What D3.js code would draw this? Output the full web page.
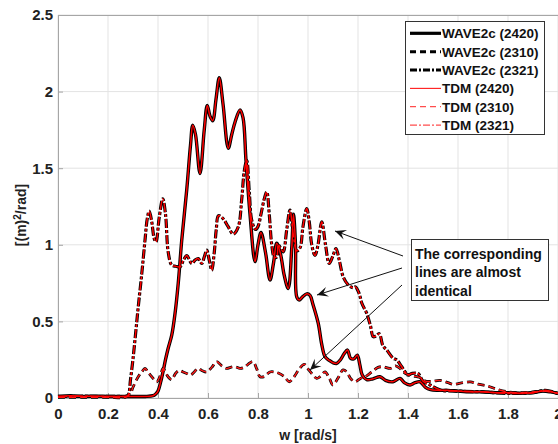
<!DOCTYPE html>
<html><head><meta charset="utf-8">
<script src="https://cdn.jsdelivr.net/npm/d3@7"></script>
<style>body{margin:0;background:#fff;overflow:hidden}text{font-family:"Liberation Sans",Arial,sans-serif;font-weight:bold}</style>
</head><body>
<svg id="c" width="558" height="444"></svg>
<script>
// ---- data ----
const xTickVals = [0,0.2,0.4,0.6,0.8,1,1.2,1.4,1.6,1.8,2];
const yTickVals = [0,0.5,1,1.5,2,2.5];
const legendLabels = ["WAVE2c (2420)","WAVE2c (2310)","WAVE2c (2321)","TDM (2420)","TDM (2310)","TDM (2321)"];
const annotationLines = ["The corresponding","lines are almost","identical"];

const w2420 = [0,0.05,0.1,0.15,0.2,0.25,0.3,0.35,0.38,0.39,0.40,0.41,0.42,0.43,0.44,0.455,0.468,0.481,0.495,0.515,0.53,0.539,0.55,0.568,0.585,0.597,0.608,0.619,0.632,0.645,0.66,0.681,0.695,0.708,0.728,0.74,0.752,0.768,0.788,0.80,0.812,0.83,0.848,0.862,0.875,0.89,0.905,0.921,0.935,0.942,0.95,0.955,0.965,0.978,0.995,1.008,1.02,1.041,1.055,1.068,1.085,1.1,1.115,1.13,1.145,1.158,1.17,1.183,1.197,1.207,1.217,1.235,1.26,1.288,1.31,1.34,1.368,1.385,1.408,1.428,1.448,1.47,1.49,1.52,1.56,1.6,1.65,1.7,1.75,1.8,1.85,1.9,1.94,1.97,2.0];
const s2420 = [0.01,0.015,0.01,0.012,0.01,0.01,0.01,0.01,0.015,0.025,0.045,0.10,0.17,0.25,0.32,0.41,0.55,0.75,1.03,1.36,1.65,1.78,1.72,1.465,1.75,1.91,1.84,1.81,1.95,2.09,1.92,1.63,1.72,1.80,1.88,1.83,1.55,1.2,0.89,1.0,1.08,0.95,0.77,0.88,1.01,0.94,0.80,0.715,0.98,1.2,1.0,0.66,0.64,0.66,0.68,0.67,0.61,0.487,0.35,0.27,0.245,0.23,0.226,0.25,0.29,0.313,0.26,0.255,0.28,0.22,0.15,0.12,0.125,0.139,0.115,0.106,0.128,0.10,0.085,0.1,0.106,0.07,0.055,0.05,0.05,0.045,0.04,0.04,0.035,0.035,0.03,0.035,0.045,0.04,0.03];

const w2321 = [0,0.05,0.1,0.15,0.2,0.25,0.27,0.281,0.29,0.301,0.311,0.321,0.335,0.348,0.357,0.365,0.375,0.385,0.392,0.405,0.419,0.43,0.441,0.455,0.47,0.488,0.502,0.515,0.535,0.548,0.561,0.575,0.585,0.595,0.605,0.615,0.625,0.633,0.642,0.661,0.68,0.701,0.721,0.735,0.745,0.755,0.765,0.775,0.79,0.80,0.812,0.825,0.835,0.845,0.855,0.865,0.875,0.881,0.89,0.901,0.915,0.928,0.94,0.955,0.968,0.98,0.995,1.005,1.015,1.028,1.04,1.055,1.07,1.085,1.1,1.112,1.125,1.141,1.16,1.18,1.19,1.205,1.215,1.235,1.25,1.261,1.272,1.285,1.30,1.315,1.34,1.355,1.375,1.388,1.40,1.415,1.44,1.46,1.488,1.53,1.6,1.7,1.8,1.9,1.95,2.0];
const s2321 = [0.01,0.01,0.012,0.01,0.01,0.01,0.01,0.02,0.12,0.27,0.43,0.595,0.81,1.03,1.17,1.22,1.15,1.04,1.02,1.18,1.30,1.2,0.95,0.867,0.86,0.856,0.90,0.93,0.878,0.90,0.91,0.878,0.92,0.965,0.9,0.834,0.95,1.1,1.19,1.17,1.12,1.07,1.117,1.3,1.48,1.55,1.35,1.16,1.1,1.12,1.2,1.3,1.345,1.2,1.0,0.92,0.92,1.0,0.98,0.954,1.1,1.226,1.08,0.96,0.98,1.12,1.237,1.15,1.0,0.93,1.0,1.15,1.0,0.878,0.93,0.976,0.9,0.79,0.74,0.72,0.725,0.68,0.62,0.552,0.47,0.40,0.405,0.42,0.34,0.313,0.26,0.248,0.204,0.171,0.15,0.16,0.16,0.11,0.085,0.052,0.045,0.04,0.03,0.035,0.05,0.03];

const w2310 = [0,0.1,0.2,0.27,0.29,0.30,0.321,0.335,0.348,0.36,0.375,0.395,0.41,0.42,0.43,0.44,0.455,0.47,0.485,0.50,0.515,0.53,0.545,0.56,0.575,0.595,0.615,0.635,0.655,0.675,0.69,0.708,0.728,0.745,0.76,0.78,0.795,0.808,0.825,0.848,0.865,0.885,0.905,0.925,0.945,0.965,0.985,1.0,1.015,1.035,1.048,1.068,1.085,1.1,1.12,1.14,1.155,1.17,1.188,1.21,1.23,1.255,1.28,1.30,1.33,1.35,1.37,1.39,1.42,1.445,1.47,1.5,1.528,1.56,1.58,1.62,1.65,1.68,1.715,1.75,1.8,1.85,1.9,1.95,2.0];
const s2310 = [0.005,0.005,0.005,0.005,0.03,0.07,0.139,0.17,0.193,0.17,0.139,0.106,0.15,0.193,0.17,0.139,0.12,0.16,0.18,0.17,0.16,0.15,0.17,0.193,0.18,0.17,0.2,0.237,0.21,0.193,0.2,0.204,0.193,0.2,0.22,0.237,0.19,0.139,0.14,0.17,0.17,0.16,0.14,0.106,0.14,0.19,0.22,0.19,0.16,0.128,0.139,0.17,0.13,0.085,0.13,0.183,0.17,0.128,0.106,0.128,0.14,0.17,0.2,0.204,0.193,0.21,0.19,0.16,0.145,0.135,0.11,0.11,0.115,0.1,0.09,0.10,0.105,0.09,0.08,0.06,0.04,0.035,0.04,0.045,0.03];

// ---- layout ----
const svg = d3.select("#c");
const L = 58, R = 558, T = 15, B = 398;
const x = d3.scaleLinear().domain([0,2]).range([L,R]);
const y = d3.scaleLinear().domain([0,2.5]).range([B,T]);
const gridCol = "#e3e3e3", axisCol = "#a6a6a6";

// grid
svg.append("g").selectAll("line").data(xTickVals).join("line")
  .attr("x1",d=>x(d)).attr("x2",d=>x(d)).attr("y1",T).attr("y2",B)
  .attr("stroke",gridCol).attr("stroke-width",1);
svg.append("g").selectAll("line").data(yTickVals).join("line")
  .attr("x1",L).attr("x2",R).attr("y1",d=>y(d)).attr("y2",d=>y(d))
  .attr("stroke",gridCol).attr("stroke-width",1);

// axes
const fmt = d => String(+d.toFixed(1));
const xa = svg.append("g").attr("transform",`translate(0,${B})`)
  .call(d3.axisBottom(x).tickValues(xTickVals).tickFormat(fmt).tickSizeInner(-5).tickSizeOuter(0).tickPadding(10));
const ya = svg.append("g").attr("transform",`translate(${L},0)`)
  .call(d3.axisLeft(y).tickValues(yTickVals).tickFormat(fmt).tickSizeInner(-5).tickSizeOuter(0).tickPadding(5));
[xa,ya].forEach(a=>{
  a.select(".domain").attr("stroke",axisCol);
  a.selectAll(".tick line").attr("stroke",axisCol);
  a.selectAll(".tick text").attr("fill","#222").style("font-size","15px")
    .style("font-family",'"Liberation Sans",Arial,sans-serif').style("font-weight","bold");
});
// top border
svg.append("line").attr("x1",L).attr("x2",R).attr("y1",T+0.5).attr("y2",T+0.5).attr("stroke",axisCol);

// axis labels
svg.append("text").attr("x",308).attr("y",440).attr("text-anchor","middle")
  .style("font-size","14px").attr("fill","#222").text("w [rad/s]");
const yl = svg.append("text").attr("transform","translate(26,215) rotate(-90)").attr("text-anchor","middle")
  .style("font-size","14px").attr("fill","#222");
yl.append("tspan").text("[(m)");
yl.append("tspan").attr("dy",-5).style("font-size","10px").text("2");
yl.append("tspan").attr("dy",5).text("/rad]");

// series
const series = [
  {w:w2420, s:s2420, color:"#000", width:3.4, dash:null},
  {w:w2310, s:s2310, color:"#000", width:2.8, dash:"7,4"},
  {w:w2321, s:s2321, color:"#000", width:3.2, dash:"9,2,3,2"},
  {w:w2420, s:s2420, color:"#ff0000", width:1.5, dash:null},
  {w:w2310, s:s2310, color:"#ff1a1a", width:1.4, dash:"7,4"},
  {w:w2321, s:s2321, color:"#ff0000", width:1.5, dash:"9,2,3,2"}
];
const line = d3.line().x(d=>x(d[0])).y(d=>y(d[1])).curve(d3.curveCatmullRom.alpha(0.5));
series.forEach(sr=>{
  const pts = sr.w.map((v,i)=>[v, sr.s[i]]);
  svg.append("path").attr("d",line(pts)).attr("fill","none")
    .attr("stroke",sr.color).attr("stroke-width",sr.width)
    .attr("stroke-dasharray",sr.dash).attr("stroke-linejoin","round");
});

// legend
const legendStyles = [
  {color:"#000", width:3.2, dash:null},
  {color:"#000", width:3, dash:"6,4"},
  {color:"#000", width:3, dash:"7,2,2,2"},
  {color:"#ff0000", width:1, dash:null},
  {color:"#ff4d4d", width:1.2, dash:"6,4"},
  {color:"#ff4d4d", width:1.2, dash:"7,2,2,2"}
];
const lg = svg.append("g");
lg.append("rect").attr("x",405.5).attr("y",21.5).attr("width",139).attr("height",113)
  .attr("fill","#fff").attr("stroke","#333").attr("stroke-width",1);
legendLabels.forEach((lab,i)=>{
  const cy = 33.3 + i*18.35;
  const st = legendStyles[i];
  lg.append("line").attr("x1",410).attr("x2",441).attr("y1",cy).attr("y2",cy)
    .attr("stroke",st.color).attr("stroke-width",st.width).attr("stroke-dasharray",st.dash);
  lg.append("text").attr("x",442).attr("y",cy).attr("dy","0.36em")
    .style("font-size","13.5px").attr("fill","#111").text(lab);
});

// annotation
const an = svg.append("g");
const arrows = [[403,256,335,231],[402,268,317,295],[402,285,310,370]];
arrows.forEach(a=>{
  an.append("line").attr("x1",a[0]).attr("y1",a[1]).attr("x2",a[2]).attr("y2",a[3])
    .attr("stroke","#111").attr("stroke-width",1);
  const ang = Math.atan2(a[3]-a[1], a[2]-a[0]);
  const len = 11, half = 5;
  const bx = a[2]-len*Math.cos(ang), by = a[3]-len*Math.sin(ang);
  const nx = -Math.sin(ang), ny = Math.cos(ang);
  const mx = a[2]-0.6*len*Math.cos(ang), my = a[3]-0.6*len*Math.sin(ang);
  an.append("path").attr("d",`M${a[2]},${a[3]}L${bx+nx*half},${by+ny*half}L${mx},${my}L${bx-nx*half},${by-ny*half}Z`)
    .attr("fill","#111");
});
an.append("rect").attr("x",411.5).attr("y",239.5).attr("width",137).attr("height",61)
  .attr("fill","#fff").attr("stroke","#333").attr("stroke-width",1);
annotationLines.forEach((t,i)=>{
  an.append("text").attr("x",415).attr("y",253.5+i*18.8).attr("dy","0.36em")
    .style("font-size","14px").attr("fill","#111").text(t);
});
</script>
</body></html>
